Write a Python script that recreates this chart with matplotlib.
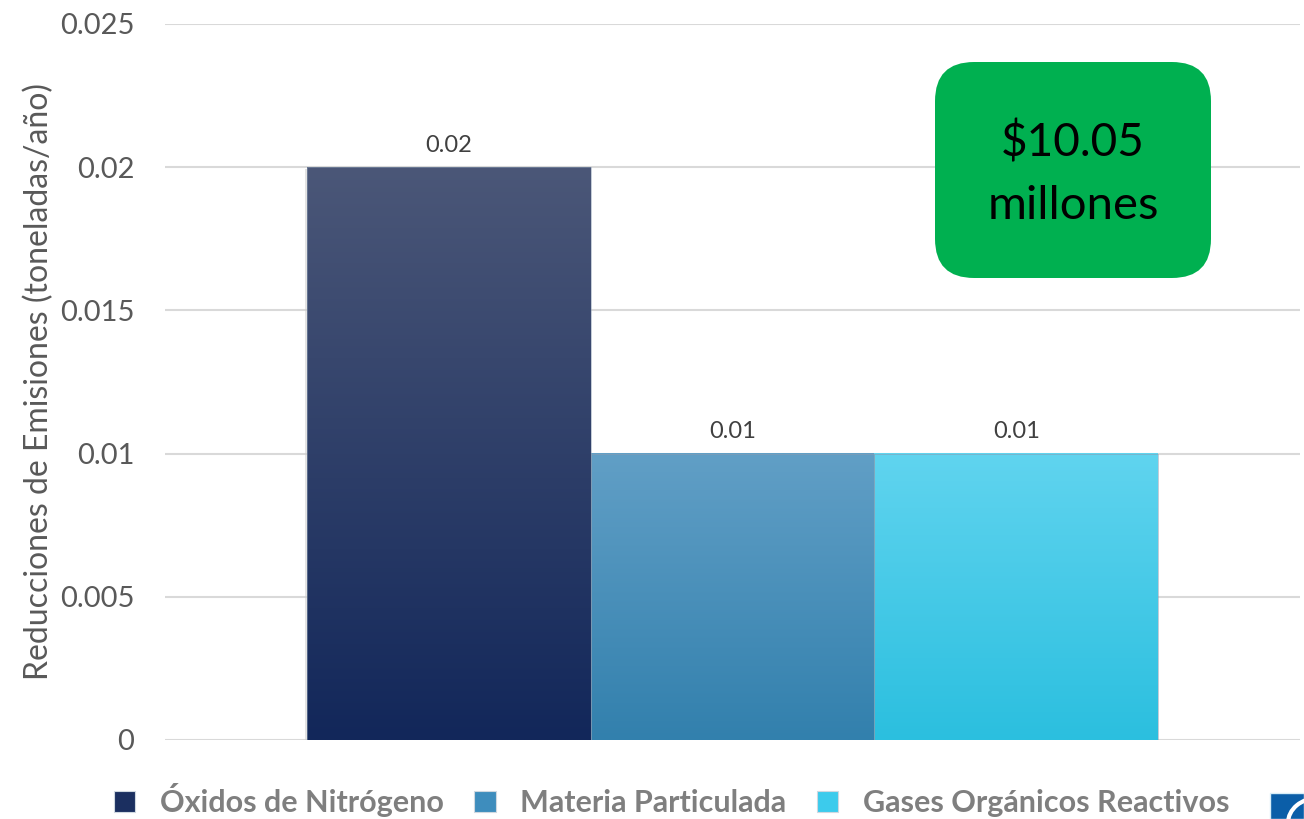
import numpy as np
import matplotlib
matplotlib.use("Agg")
import matplotlib.pyplot as plt
from matplotlib.patches import FancyBboxPatch, Rectangle, Arc
from matplotlib.colors import LinearSegmentedColormap

plt.rcParams['font.family'] = ['Lato', 'DejaVu Sans']

# datos
categorias = ['Óxidos de Nitrógeno', 'Materia Particulada', 'Gases Orgánicos Reactivos']
valores = [0.02, 0.01, 0.01]
etiquetas = ['0.02', '0.01', '0.01']
costo = '$10.05'
costo_unidad = 'millones'
y_ticks = [0, 0.005, 0.01, 0.015, 0.02, 0.025]
y_tick_labels = ['0', '0.005', '0.01', '0.015', '0.02', '0.025']

# degradados (arriba, abajo)
degradados = [('#4b5778', '#12275a'),
              ('#619fc6', '#3280ad'),
              ('#60d4ef', '#2bbfdf')]
colores_leyenda = ['#1b2f60', '#3e8dbd', '#3ccbec']

fig = plt.figure(figsize=(13.04, 8.19), dpi=100)
ax = fig.add_axes([0.1265, 0.0965, 0.8705, 0.8742])

x = np.arange(len(valores)) - 1
bars = ax.bar(x, valores, width=1.0, color='none', edgecolor='none', zorder=3)

for b, (c_top, c_bot) in zip(bars, degradados):
    bx, by = b.get_x(), b.get_y()
    bw, bh = b.get_width(), b.get_height()
    # sombra
    ax.add_patch(Rectangle((bx - 0.008, by - 0.00005), bw, bh, facecolor='#c8c8c8',
                           edgecolor='none', alpha=0.5, zorder=2))
    cmap = LinearSegmentedColormap.from_list('g', [c_bot, c_top])
    grad = np.linspace(0, 1, 256).reshape(-1, 1)
    ax.imshow(grad, extent=(bx, bx + bw, by, by + bh), origin='lower',
              cmap=cmap, aspect='auto', zorder=3)
    ax.add_patch(Rectangle((bx, by), bw, bh, facecolor='none',
                           edgecolor='#8a9bb0', linewidth=0.6, alpha=0.6, zorder=4))

for b, t in zip(bars, etiquetas):
    ax.text(b.get_x() + b.get_width() / 2, b.get_height() + 0.0004, t,
            ha='center', va='bottom', fontsize=17, color='#404040')

ax.set_xlim(-2, 2)
ax.set_ylim(0, 0.025)
ax.set_yticks(y_ticks)
ax.set_yticklabels(y_tick_labels, fontsize=21, color='#595959')
ax.set_xticks([])
ax.tick_params(axis='y', length=0, pad=22)
ax.yaxis.grid(True, color='#d9d9d9', linewidth=1.5, zorder=0)
ax.set_axisbelow(True)
for s in ax.spines.values():
    s.set_visible(False)
ax.set_ylabel('Reducciones de Emisiones (toneladas/año)', fontsize=23,
              color='#595959', labelpad=4)

# leyenda
handles = [Rectangle((0, 0), 1, 1, facecolor=c, edgecolor='#cfd8e0', linewidth=0.8)
           for c in colores_leyenda]
leg = fig.legend(handles, categorias, loc='lower center', bbox_to_anchor=(0.515, -0.031),
                 ncol=3, frameon=False, handlelength=0.7, handleheight=0.7,
                 handletextpad=0.8, columnspacing=1.0,
                 prop={'size': 22, 'weight': 'bold'})
for t in leg.get_texts():
    t.set_color('#7f7f7f')

# recuadro verde
caja = FancyBboxPatch((935 / 1304, 1 - 278 / 819), 276 / 1304, 216 / 819,
                      boxstyle='round,pad=0,rounding_size=0.03',
                      transform=fig.transFigure, facecolor='#00b050',
                      edgecolor='none', mutation_aspect=1304 / 819, zorder=5)
fig.patches.append(caja)
fig.text(1073 / 1304, 1 - 142 / 819, costo, ha='center', va='center',
         fontsize=33, color='black', zorder=6)
fig.text(1073 / 1304, 1 - 206 / 819, costo_unidad, ha='center', va='center',
         fontsize=34, color='black', zorder=6)

# logo recortado
fig.patches.append(Rectangle((1270 / 1304, 0), 34 / 1304, 26 / 819,
                             transform=fig.transFigure, facecolor='#0b5ea8',
                             edgecolor='#d8eef8', linewidth=1))
fig.patches.append(Arc((1318 / 1304, -4 / 819), 60 / 1304, 50 / 819, theta1=90, theta2=180,
                       transform=fig.transFigure, color='white', linewidth=3))

fig.savefig('out.png', dpi=100)
